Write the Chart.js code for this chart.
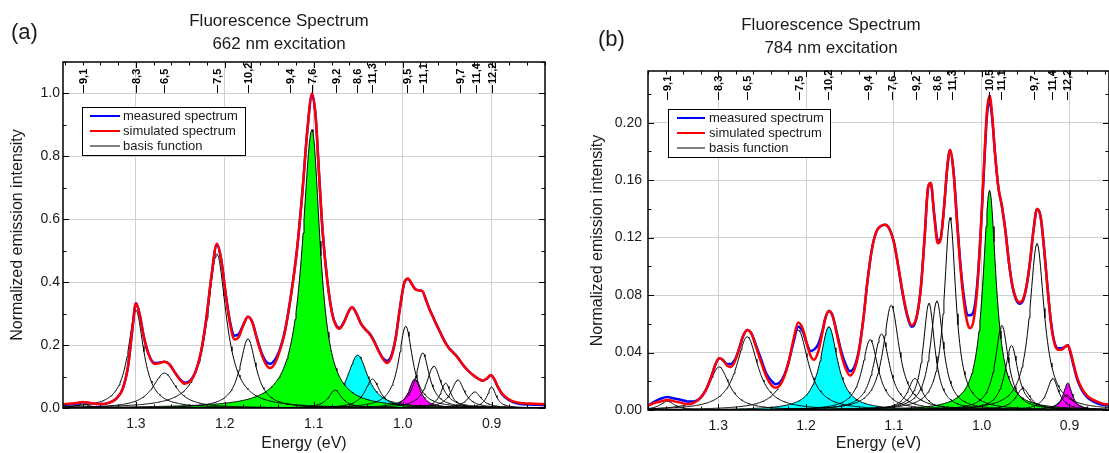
<!DOCTYPE html>
<html>
<head>
<meta charset="utf-8">
<script src="https://cdn.jsdelivr.net/npm/chart.js@4.4.1/dist/chart.umd.min.js"></script>
<style>
  html, body { margin: 0; padding: 0; background: #fff; }
  #wrap { position: relative; width: 1109px; height: 453px; overflow: hidden; }
  .panel { position: absolute; top: 0; height: 453px; }
</style>
</head>
<body>
<div id="wrap">
  <div class="panel" style="left:0;width:555px"><canvas id="chartA"></canvas></div>
  <div class="panel" style="left:555px;width:554px"><canvas id="chartB"></canvas></div>
</div>
<script>
// ---- panel (a): 662 nm excitation ----
const specEnergyA = [1.382,1.372,1.366,1.360,1.352,1.344,1.337,1.330,1.322,1.315,1.309,1.304,1.300,1.296,1.291,1.285,1.279,1.273,1.268,1.262,1.256,1.250,1.245,1.239,1.233,1.227,1.221,1.215,1.209,1.204,1.199,1.194,1.189,1.184,1.179,1.174,1.169,1.164,1.158,1.153,1.149,1.144,1.139,1.133,1.126,1.119,1.113,1.107,1.102,1.098,1.094,1.090,1.085,1.079,1.075,1.071,1.066,1.061,1.057,1.052,1.047,1.042,1.037,1.032,1.027,1.022,1.018,1.013,1.008,1.003,0.998,0.994,0.990,0.986,0.982,0.978,0.974,0.970,0.966,0.962,0.957,0.953,0.948,0.943,0.938,0.933,0.927,0.921,0.915,0.910,0.905,0.901,0.897,0.893,0.888,0.882,0.876,0.868,0.858,0.848,0.840];
const simulatedA = [0.012,0.014,0.016,0.019,0.016,0.013,0.013,0.017,0.030,0.060,0.130,0.250,0.333,0.300,0.225,0.165,0.140,0.143,0.147,0.138,0.112,0.088,0.077,0.085,0.115,0.175,0.280,0.420,0.522,0.470,0.360,0.265,0.218,0.228,0.265,0.290,0.272,0.220,0.165,0.135,0.127,0.140,0.175,0.235,0.350,0.500,0.680,0.890,1.000,0.930,0.740,0.560,0.410,0.295,0.262,0.252,0.272,0.305,0.320,0.300,0.268,0.250,0.234,0.210,0.180,0.155,0.143,0.160,0.220,0.320,0.400,0.412,0.395,0.378,0.374,0.372,0.345,0.315,0.290,0.265,0.235,0.212,0.190,0.175,0.160,0.140,0.120,0.105,0.093,0.087,0.095,0.105,0.092,0.068,0.045,0.030,0.021,0.016,0.014,0.013,0.012];
const measuredA = [0.010,0.012,0.014,0.018,0.016,0.013,0.013,0.017,0.030,0.060,0.130,0.250,0.333,0.300,0.225,0.166,0.143,0.145,0.147,0.138,0.112,0.090,0.080,0.087,0.115,0.175,0.280,0.420,0.520,0.470,0.362,0.272,0.230,0.236,0.266,0.290,0.272,0.222,0.170,0.145,0.141,0.152,0.180,0.238,0.352,0.500,0.680,0.890,0.995,0.930,0.740,0.560,0.410,0.297,0.264,0.255,0.274,0.306,0.320,0.300,0.268,0.250,0.236,0.212,0.182,0.158,0.150,0.165,0.222,0.320,0.400,0.410,0.395,0.378,0.374,0.372,0.345,0.315,0.290,0.265,0.236,0.213,0.191,0.176,0.160,0.140,0.120,0.105,0.093,0.087,0.094,0.104,0.091,0.066,0.043,0.028,0.019,0.013,0.011,0.010,0.009];

const peakCenterA = [1.360,1.300,1.268,1.209,1.174,1.102,1.076,1.0506,1.034,0.9966,0.9865,0.9775,0.965,0.9517,0.938,0.919,0.900];
const peakHeightA = [0.012,0.311,0.111,0.490,0.220,0.885,0.057,0.168,0.092,0.260,0.092,0.175,0.133,0.079,0.089,0.051,0.067];
const peakHwhmHighA = [0.010,0.0105,0.016,0.013,0.011,0.013,0.009,0.014,0.010,0.0095,0.008,0.009,0.010,0.007,0.009,0.009,0.006];
const peakHwhmLowA  = [0.010,0.0105,0.016,0.013,0.011,0.011,0.009,0.014,0.010,0.0095,0.008,0.009,0.010,0.007,0.009,0.009,0.006];

const chiralityA = ["9,1","8,3","6,5","7,5","10,2","9,4","7,6","9,2","8,6","11,3","9,5","11,1","9,7","11,4","12,2"];
const chiralityEnergyA = [1.3596,1.300,1.2685,1.209,1.174,1.127,1.102,1.075,1.051,1.034,0.9955,0.9775,0.936,0.918,0.900];

// ---- panel (b): 784 nm excitation ----
const specEnergyB = [1.380,1.372,1.365,1.358,1.350,1.342,1.335,1.328,1.321,1.314,1.308,1.303,1.299,1.295,1.290,1.286,1.281,1.276,1.272,1.267,1.262,1.257,1.251,1.245,1.239,1.235,1.230,1.225,1.220,1.214,1.209,1.204,1.199,1.195,1.191,1.186,1.181,1.178,1.174,1.170,1.165,1.160,1.155,1.150,1.145,1.140,1.135,1.130,1.125,1.120,1.115,1.110,1.105,1.100,1.095,1.090,1.085,1.080,1.077,1.073,1.069,1.065,1.061,1.058,1.054,1.050,1.047,1.043,1.039,1.036,1.032,1.028,1.024,1.020,1.016,1.013,1.009,1.005,1.001,0.997,0.994,0.991,0.988,0.985,0.981,0.977,0.973,0.969,0.965,0.961,0.957,0.953,0.949,0.945,0.941,0.937,0.933,0.929,0.925,0.921,0.917,0.913,0.909,0.905,0.902,0.899,0.895,0.891,0.886,0.880,0.873,0.865,0.855];
const simulatedB = [0.003,0.005,0.006,0.007,0.006,0.005,0.004,0.005,0.008,0.014,0.023,0.032,0.036,0.035,0.031,0.030,0.034,0.043,0.051,0.0557,0.053,0.044,0.033,0.023,0.017,0.0155,0.017,0.023,0.033,0.050,0.061,0.057,0.046,0.038,0.035,0.041,0.055,0.064,0.069,0.066,0.053,0.039,0.029,0.024,0.028,0.040,0.062,0.090,0.112,0.124,0.128,0.129,0.126,0.117,0.100,0.082,0.067,0.059,0.060,0.068,0.087,0.120,0.155,0.158,0.135,0.116,0.118,0.140,0.170,0.181,0.165,0.130,0.098,0.074,0.060,0.057,0.063,0.085,0.125,0.175,0.208,0.219,0.205,0.180,0.155,0.142,0.125,0.103,0.087,0.078,0.075,0.077,0.086,0.103,0.125,0.140,0.135,0.113,0.085,0.060,0.046,0.042,0.042,0.044,0.045,0.041,0.031,0.022,0.015,0.010,0.007,0.005,0.0035];
const measuredB = [0.003,0.006,0.008,0.009,0.008,0.007,0.006,0.006,0.008,0.014,0.023,0.032,0.036,0.035,0.032,0.032,0.035,0.043,0.051,0.0557,0.053,0.045,0.035,0.025,0.020,0.018,0.019,0.024,0.033,0.048,0.058,0.055,0.046,0.041,0.042,0.046,0.056,0.064,0.069,0.066,0.054,0.041,0.032,0.027,0.030,0.041,0.062,0.090,0.112,0.124,0.128,0.129,0.126,0.117,0.100,0.081,0.066,0.058,0.059,0.068,0.087,0.120,0.155,0.158,0.136,0.118,0.119,0.140,0.170,0.181,0.166,0.132,0.100,0.078,0.066,0.066,0.069,0.088,0.125,0.172,0.205,0.215,0.203,0.180,0.155,0.142,0.125,0.103,0.086,0.077,0.074,0.076,0.086,0.103,0.125,0.140,0.135,0.113,0.085,0.061,0.047,0.043,0.043,0.044,0.045,0.040,0.030,0.021,0.014,0.009,0.006,0.004,0.003];

const peakCenterB = [1.358,1.299,1.267,1.209,1.174,1.127,1.114,1.103,1.076,1.060,1.051,1.036,0.991,0.977,0.966,0.953,0.937,0.919,0.902,0.903];
const peakHeightB = [0.006,0.030,0.051,0.0557,0.058,0.049,0.053,0.073,0.022,0.0745,0.076,0.134,0.153,0.059,0.045,0.015,0.116,0.022,0.0188,0.0104];
const peakHwhmHighB = [0.010,0.014,0.015,0.014,0.012,0.011,0.011,0.011,0.010,0.008,0.009,0.008,0.009,0.009,0.009,0.010,0.010,0.008,0.006,0.009];
const peakHwhmLowB  = [0.010,0.014,0.015,0.014,0.012,0.011,0.011,0.011,0.010,0.008,0.009,0.008,0.009,0.009,0.009,0.010,0.010,0.008,0.006,0.009];

const chiralityB = ["9,1","8,3","6,5","7,5","10,2","9,4","7,6","9,2","8,6","11,3","10,5","11,1","9,7","11,4","12,2"];
const chiralityEnergyB = [1.358,1.300,1.267,1.208,1.175,1.130,1.102,1.075,1.051,1.034,0.992,0.978,0.940,0.920,0.903];

const legendLabels = ["measured spectrum", "simulated spectrum", "basis function"];

// ---- styling ----
const FONT = '"Liberation Sans", Arial, sans-serif';
const TEXT = "#1a1a1a";
const GRID = "#cfcfcf";
const GREEN = "#00ff00", CYAN = "#00ffff", MAGENTA = "#ff00ff";
const BLUE = "#0000ff", RED = "#ff0000";

function energyGrid(hi, lo) {
  const g = [];
  for (let e = hi; e >= lo - 1e-9; e -= 0.001) g.push(+e.toFixed(4));
  return g;
}

function buildDatasets(p) {
  const grid = energyGrid(p.xMax, p.xMin);
  const ds = [];
  p.centers.forEach((c, i) => {
    const fill = p.fills[i];
    ds.push({
      data: grid.map(e => {
        const d = (e - c) / (e >= c ? p.hwHigh[i] : p.hwLow[i]);
        return { x: e, y: p.heights[i] / (1 + d * d) };
      }),
      borderColor: "#000",
      borderWidth: 1,
      pointRadius: 0,
      fill: fill ? "origin" : false,
      backgroundColor: fill || "transparent",
      order: fill ? 4 : 3
    });
  });
  ds.push({
    data: p.energy.map((e, i) => ({ x: e, y: p.measured[i] })),
    borderColor: BLUE, borderWidth: 2.5, pointRadius: 0,
    cubicInterpolationMode: "monotone", fill: false, order: 2
  });
  ds.push({
    data: p.energy.map((e, i) => ({ x: e, y: p.simulated[i] })),
    borderColor: RED, borderWidth: 2.5, pointRadius: 0,
    cubicInterpolationMode: "monotone", fill: false, order: 1
  });
  return ds;
}

const decor = {
  id: "decor",
  afterDraw(chart, _args, o) {
    const { ctx, chartArea: a, scales: { x, y } } = chart;
    ctx.save();

    // inward ticks on all four sides
    ctx.strokeStyle = "#000";
    ctx.lineWidth = 1;
    ctx.beginPath();
    for (let k = Math.ceil(x.min / 0.02 - 1e-6); k * 0.02 <= x.max + 1e-9; k++) {
      const px = Math.round(x.getPixelForValue(k * 0.02)) + 0.5;
      const len = k % 5 === 0 ? 6 : 3.5;
      ctx.moveTo(px, a.bottom); ctx.lineTo(px, a.bottom - len);
      ctx.moveTo(px, a.top); ctx.lineTo(px, a.top + len);
    }
    for (let k = 0; k * o.yMinor <= y.max + 1e-9; k++) {
      const py = Math.round(y.getPixelForValue(k * o.yMinor)) + 0.5;
      const len = k % 2 === 0 ? 6 : 3.5;
      ctx.moveTo(a.left, py); ctx.lineTo(a.left + len, py);
      ctx.moveTo(a.right, py); ctx.lineTo(a.right - len, py);
    }
    ctx.stroke();

    // frame
    ctx.lineWidth = 1.5;
    ctx.strokeRect(a.left, a.top, a.right - a.left, a.bottom - a.top);

    // chirality labels on top axis
    ctx.lineWidth = 1;
    ctx.fillStyle = "#000";
    ctx.font = "bold 11px " + FONT;
    o.chirality.forEach((lab, i) => {
      const px = Math.round(x.getPixelForValue(o.chiralityEnergy[i])) + 0.5;
      ctx.beginPath();
      ctx.moveTo(px, o.markTop); ctx.lineTo(px, o.markBottom);
      ctx.stroke();
      ctx.save();
      ctx.translate(px, o.markTop - 1);
      ctx.rotate(-Math.PI / 2);
      ctx.textAlign = "left";
      ctx.textBaseline = "middle";
      ctx.fillText(lab, 0, 0);
      ctx.restore();
    });

    // titles and panel letter
    ctx.fillStyle = TEXT;
    ctx.textAlign = "center";
    ctx.textBaseline = "middle";
    ctx.font = "17px " + FONT;
    o.title.forEach((t, i) => ctx.fillText(t, o.titleX, o.titleY[i]));
    ctx.textAlign = "left";
    ctx.font = "22px " + FONT;
    ctx.fillText(o.panel, o.panelX, o.panelY);

    // legend box
    const L = o.legend;
    ctx.fillStyle = "#fff";
    ctx.fillRect(L.x, L.y, L.w, L.h);
    ctx.strokeStyle = "#000";
    ctx.lineWidth = 1;
    ctx.strokeRect(L.x + 0.5, L.y + 0.5, L.w, L.h);
    const colors = [BLUE, RED, "#000"];
    const widths = [2, 2, 1];
    ctx.font = "13px " + FONT;
    ctx.textBaseline = "middle";
    legendLabels.forEach((t, i) => {
      const ly = L.y + L.first + i * L.step;
      ctx.strokeStyle = colors[i];
      ctx.lineWidth = widths[i];
      ctx.beginPath();
      ctx.moveTo(L.x + L.lineStart, ly); ctx.lineTo(L.x + L.lineStart + L.lineLen, ly);
      ctx.stroke();
      ctx.fillStyle = TEXT;
      ctx.fillText(t, L.x + L.textStart, ly + 0.5);
    });
    ctx.restore();
  }
};

function makeChart(id, p) {
  return new Chart(document.getElementById(id), {
    type: "line",
    data: { datasets: buildDatasets(p) },
    plugins: [decor],
    options: {
      responsive: true,
      maintainAspectRatio: false,
      animation: false,
      events: [],
      layout: { padding: { left: 0, right: p.padRight, top: p.padTop, bottom: 0 } },
      elements: { line: { tension: 0 } },
      plugins: {
        legend: { display: false },
        tooltip: { enabled: false },
        title: { display: false },
        decor: p.decor
      },
      scales: {
        x: {
          type: "linear",
          reverse: true,
          min: p.xMin,
          max: p.xMax,
          afterFit: s => { s.height = p.xHeight; },
          border: { display: false },
          grid: { color: GRID, drawTicks: false },
          ticks: {
            stepSize: 0.1, includeBounds: false, autoSkip: false, maxRotation: 0,
            padding: 8, color: TEXT, font: { size: 14, family: FONT },
            callback: v => v.toFixed(1)
          },
          title: {
            display: true, text: "Energy (eV)", color: TEXT,
            font: { size: 16, family: FONT }, padding: { top: 0, bottom: 0 }
          }
        },
        y: {
          min: 0,
          max: p.yMax,
          afterFit: s => { s.width = p.yWidth; },
          border: { display: false },
          grid: { color: GRID, drawTicks: false },
          ticks: {
            stepSize: p.yStep, includeBounds: false, padding: p.yTickPad,
            color: TEXT, font: { size: 14, family: FONT },
            callback: v => v.toFixed(p.yDigits)
          },
          title: {
            display: true, text: "Normalized emission intensity", color: TEXT,
            font: { size: 16, family: FONT }, padding: { top: p.yTitlePad, bottom: 0 }
          }
        }
      }
    }
  });
}

makeChart("chartA", {
  energy: specEnergyA, measured: measuredA, simulated: simulatedA,
  centers: peakCenterA, heights: peakHeightA, hwHigh: peakHwhmHighA, hwLow: peakHwhmLowA,
  fills: { 5: GREEN, 7: CYAN, 10: MAGENTA },
  xMin: 0.84, xMax: 1.382, yMax: 1.1, yStep: 0.2, yDigits: 1,
  padTop: 62, padRight: 10, xHeight: 45, yWidth: 63, yTitlePad: 8, yTickPad: 3,
  decor: {
    yMinor: 0.1,
    chirality: chiralityA, chiralityEnergy: chiralityEnergyA,
    markTop: 85, markBottom: 93,
    title: ["Fluorescence Spectrum", "662 nm excitation"],
    titleX: 279, titleY: [21, 44],
    panel: "(a)", panelX: 11, panelY: 33,
    legend: { x: 82, y: 107, w: 163, h: 48, first: 9, step: 15, lineStart: 8, lineLen: 30, textStart: 41 }
  }
});

makeChart("chartB", {
  energy: specEnergyB, measured: measuredB, simulated: simulatedB,
  centers: peakCenterB, heights: peakHeightB, hwHigh: peakHwhmHighB, hwLow: peakHwhmLowB,
  fills: { 4: CYAN, 12: GREEN, 18: MAGENTA },
  xMin: 0.855, xMax: 1.38, yMax: 0.236, yStep: 0.04, yDigits: 2,
  padTop: 71, padRight: 0, xHeight: 43, yWidth: 93, yTitlePad: 33, yTickPad: 6,
  decor: {
    yMinor: 0.02,
    chirality: chiralityB, chiralityEnergy: chiralityEnergyB,
    markTop: 92, markBottom: 100,
    title: ["Fluorescence Spectrum", "784 nm excitation"],
    titleX: 276, titleY: [25, 48],
    panel: "(b)", panelX: 43, panelY: 40,
    legend: { x: 113, y: 109, w: 162, h: 48, first: 9, step: 15, lineStart: 9, lineLen: 28, textStart: 41 }
  }
});
</script>
</body>
</html>
